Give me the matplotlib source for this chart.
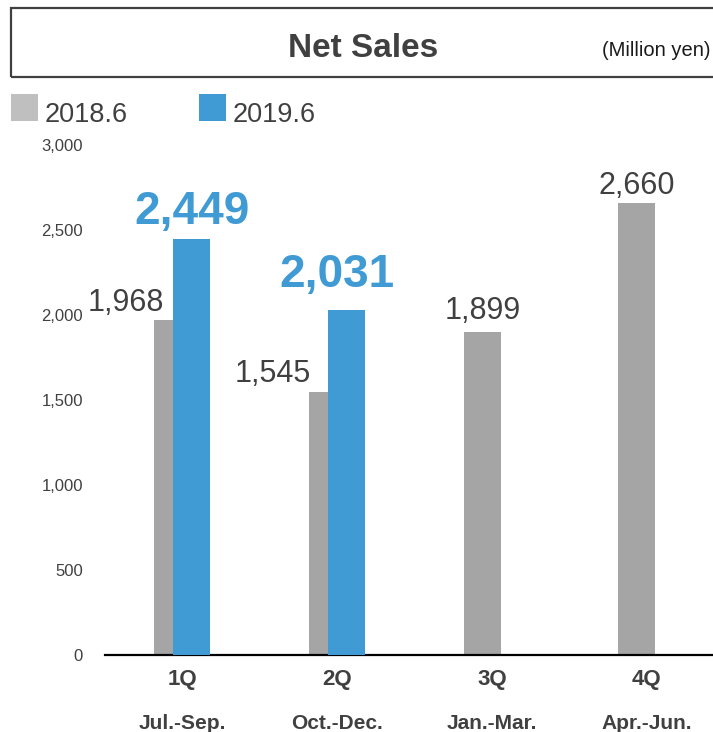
import matplotlib
matplotlib.use("Agg")
import matplotlib.pyplot as plt
from matplotlib.patches import Rectangle

plt.rcParams['font.family'] = ['Liberation Sans', 'DejaVu Sans']

# ---- data ----
quarters = ["1Q", "2Q", "3Q", "4Q"]
periods = ["Jul.-Sep.", "Oct.-Dec.", "Jan.-Mar.", "Apr.-Jun."]
sales_2018 = [1968, 1545, 1899, 2660]
sales_2019 = [2449, 2031]
series_names = ["2018.6", "2019.6"]
y_ticks = [0, 500, 1000, 1500, 2000, 2500, 3000]

# label nudges in pixels (dx, dy above bar top)
nudge_2018 = [(-47, 9), (-55, 10), (0, 13), (0, 9)]
nudge_2019 = [(0, 15), (-10, 23)]

GRAY = "#A5A5A5"
LEGEND_GRAY = "#BFBFBF"
BLUE = "#409AD3"
TEXT = "#404040"

W, H = 713, 732
fig = plt.figure(figsize=(W / 100, H / 100), dpi=100)

def px(x, y):
    return x / W, 1 - y / H

# title box
fig.patches.append(Rectangle(px(10.5, 77), 720 / W, 69.5 / H, transform=fig.transFigure,
                             fill=False, edgecolor=TEXT, linewidth=1.6))
fig.text(*px(363, 48.5), "Net Sales", ha="center", va="center", fontsize=24,
         fontweight="bold", color=TEXT)
fig.text(*px(711, 50), "(Million yen)", ha="right", va="center", fontsize=14.5,
         color="#1a1a1a")

# legend
for (x0, name, col) in [(11, series_names[0], LEGEND_GRAY), (199, series_names[1], BLUE)]:
    fig.patches.append(Rectangle(px(x0, 121), 27 / W, 27 / H, transform=fig.transFigure,
                                 facecolor=col, edgecolor="none"))
    fig.text(*px(x0 + 34, 122), name, ha="left", va="baseline", fontsize=19.5, color=TEXT)

# bar axes
ax = fig.add_axes([105 / W, 77 / H, (713 - 105) / W, 510 / H])
xs = list(range(len(quarters)))
bw = 0.239
off = 0.0614

ax.bar([x - off for x in xs], sales_2018, width=bw, color=GRAY, zorder=2)
ax.bar([x + off for x in xs[:len(sales_2019)]], sales_2019, width=bw, color=BLUE, zorder=3)

for x, v, (dx, dy) in zip(xs, sales_2018, nudge_2018):
    ax.annotate(f"{v:,}", xy=(x - off, v), xytext=(dx * 0.72, dy * 0.72),
                textcoords="offset points", ha="center", va="baseline",
                fontsize=22, color=TEXT, zorder=4)
for x, v, (dx, dy) in zip(xs, sales_2019, nudge_2019):
    ax.annotate(f"{v:,}", xy=(x + off, v), xytext=(dx * 0.72, dy * 0.72),
                textcoords="offset points", ha="center", va="baseline",
                fontsize=33, fontweight="bold", color=BLUE, zorder=4)

for x, q, p in zip(xs, quarters, periods):
    ax.annotate(q, xy=(x, 0), xycoords=("data", "axes fraction"), xytext=(0, -30 * 0.72),
                textcoords="offset points", ha="center", va="baseline",
                fontsize=16, fontweight="bold", color=TEXT)
    ax.annotate(p, xy=(x, 0), xycoords=("data", "axes fraction"), xytext=(0, -74 * 0.72),
                textcoords="offset points", ha="center", va="baseline",
                fontsize=15, fontweight="bold", color=TEXT)

ax.set_xlim(-0.5, 3.43)
ax.set_ylim(0, 3000)
ax.set_xticks([])
ax.set_yticks(y_ticks)
ax.set_yticklabels([f"{t:,}" for t in y_ticks], fontsize=12, color=TEXT)
ax.tick_params(axis="y", length=0, pad=16)
for s in ["left", "right", "top"]:
    ax.spines[s].set_visible(False)
ax.spines["bottom"].set_linewidth(1.6)
ax.spines["bottom"].set_color("black")
ax.patch.set_visible(False)

fig.savefig("out.png", dpi=100)
